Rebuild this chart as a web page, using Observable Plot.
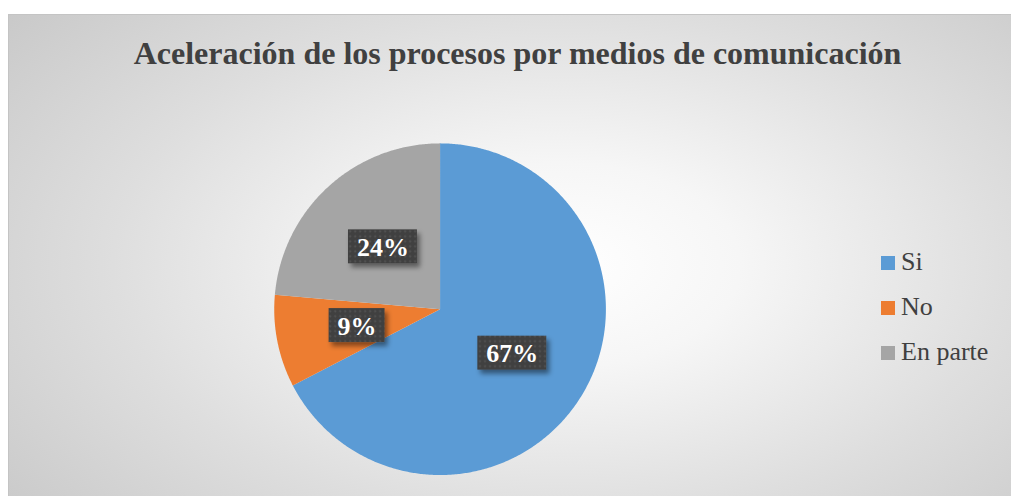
<!DOCTYPE html>
<html><head><meta charset="utf-8">
<script src="https://cdn.jsdelivr.net/npm/d3@7"></script>
<script src="https://cdn.jsdelivr.net/npm/@observablehq/plot@0.6"></script>
<style>
body{margin:0;width:1011px;height:496px;overflow:hidden;background:#fff;font-family:"Liberation Serif","Times New Roman",serif;}
#chart{position:absolute;left:8px;top:14px;width:1003px;height:482px;box-sizing:border-box;border-top:1px solid #c4c4c4;border-left:1px solid #c4c4c4;
background:radial-gradient(ellipse 72% 85% at 55% 52%, #ffffff 0%, #f6f6f6 25%, #dedede 62%, #c8c8c8 100%);}
#chart svg{position:absolute;left:-1px;top:-1px;}
#title{position:absolute;left:7px;width:1003px;top:22px;line-height:32px;text-align:center;font-weight:bold;font-size:32px;color:#404040;white-space:nowrap;}
.li{position:absolute;left:872px;height:26px;font-size:26px;line-height:26px;color:#404040;white-space:nowrap;}
.li span.sw{position:absolute;left:0;width:14px;height:14px;}
.li span.tx{position:absolute;left:20px;top:0;}
#chart svg g[aria-label="rect"] rect{fill:url(#dots);filter:url(#sh);}
</style></head>
<body>
<div id="chart"><div id="title"></div><div id="legend"></div></div>
<script>
const title = "Aceleración de los procesos por medios de comunicación";
const categories = ["Si", "No", "En parte"];
const values = [67.4, 9.0, 23.6];
const labels = ["67%", "9%", "24%"];
const colors = ["#5B9BD5", "#ED7D31", "#A5A5A5"];

document.getElementById("title").textContent = title;

// legend
const leg = document.getElementById("legend");
categories.forEach((c, i) => {
  const d = document.createElement("div");
  d.className = "li";
  d.style.top = (234 + i * 45) + "px";
  d.innerHTML = `<span class="sw" style="background:${colors[i]};top:7px"></span><span class="tx"></span>`;
  d.querySelector(".tx").textContent = c;
  leg.appendChild(d);
});

// pie geometry
const R = 166; // px radius
const arcs = d3.pie().sort(null).value(d => d)(values);
const pts = [];
arcs.forEach((p, i) => {
  const k = categories[i];
  pts.push({k, x: 0, y: 0});
  const n = Math.max(2, Math.ceil((p.endAngle - p.startAngle) / (Math.PI / 360)));
  for (let j = 0; j <= n; j++) {
    const a = p.startAngle + (p.endAngle - p.startAngle) * j / n;
    pts.push({k, x: Math.sin(a), y: -Math.cos(a)});
  }
  pts.push({k, x: 0, y: 0});
});

const ctx = document.createElement("canvas").getContext("2d");
ctx.font = 'bold 26px "Liberation Serif"';
const lab = arcs.map((p, i) => {
  const a = (p.startAngle + p.endAngle) / 2;
  const f = 0.51;
  const w = ctx.measureText(labels[i]).width + 17;
  const x = f * Math.sin(a), y = -f * Math.cos(a);
  const hw = w / 2 / R, hh = 17 / R;
  return {k: categories[i], text: labels[i], x, y, x1: x - hw, x2: x + hw, y1: y - hh, y2: y + hh};
});

const cx = 432, cy = 295;
const svg = Plot.plot({
  width: 1003, height: 482,
  margin: 0,
  style: {background: "transparent", overflow: "visible"},
  x: {domain: [-1, 1], range: [cx - R, cx + R], axis: null},
  y: {domain: [-1, 1], range: [cy - R, cy + R], axis: null},
  color: {domain: categories, range: colors},
  marks: [
    Plot.line(pts, {x: "x", y: "y", z: "k", fill: "k", stroke: "none", curve: "linear"}),
    Plot.rect(lab, {x1: "x1", x2: "x2", y1: "y1", y2: "y2", fill: "#404040"}),
    Plot.text(lab, {x: "x", y: "y", text: "text", fill: "white", fontWeight: "bold", fontSize: 26, fontFamily: "Liberation Serif", dy: 1})
  ]
});
svg.insertAdjacentHTML("afterbegin", `<defs><pattern id="dots" width="5" height="5" patternUnits="userSpaceOnUse"><rect width="5" height="5" fill="#404040"/><circle cx="2.5" cy="2.5" r="0.9" fill="#5a5a5a"/></pattern><filter id="sh" x="-30%" y="-30%" width="170%" height="180%"><feDropShadow dx="3" dy="4" stdDeviation="2.5" flood-color="#000" flood-opacity="0.45"/></filter></defs>`);
document.getElementById("chart").insertBefore(svg, document.getElementById("title"));
</script>
</body></html>
